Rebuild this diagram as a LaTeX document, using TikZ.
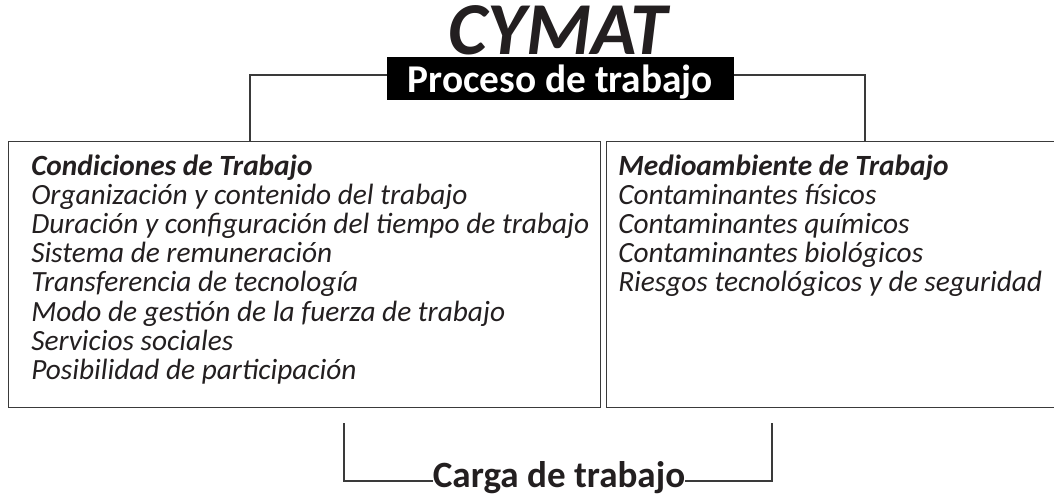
\documentclass[tikz,border=0pt]{standalone}
\usepackage{fontspec}
\setmainfont{Carlito}
\usetikzlibrary{
    calc,
    positioning
}
\definecolor{inkgray}{HTML}{231F20}
\definecolor{linegray}{HTML}{3A3A3A}

\begin{document}
\begin{tikzpicture}[x=0.75pt, y=-0.75pt,
    frame/.style={draw=linegray, line width=1pt},
    link/.style={draw=linegray, line width=1pt},
    item/.style={inner sep=0pt, text=inkgray, font=\fontsize{22}{26}\selectfont\itshape, anchor=base west},
    head/.style={item, font=\fontsize{22}{26}\selectfont\bfseries\itshape}
]
    \useasboundingbox (0, 0) rectangle (1054, 496);
    \clip (0, 0) rectangle (1054, 496);

    % title and black band
    \node[inner sep=0pt, text=inkgray, font=\fontsize{56}{60}\selectfont\bfseries\itshape, anchor=base] (cymat) at (558, 55) {CYMAT};
    \node[fill=black, text=white, inner sep=0pt, minimum width=260.25pt, minimum height=32.25pt,
          text height=20.25pt, text depth=0pt,
          font=\fontsize{29.5}{32}\selectfont\bfseries] (proceso) at (560.5, 78.5) {Proceso de trabajo};

    % the two boxes
    \node[frame, anchor=north west, minimum width=444pt, minimum height=199.5pt] (condbox) at (8, 141) {};
    \node[frame, anchor=north west, minimum width=339pt, minimum height=199.5pt] (medbox) at (606, 141) {};

    \node[head] (cond-head) at (31, 175) {Condiciones de Trabajo};
    \foreach \t [count=\i from 0] in {Organización y contenido del trabajo,
                                      Duración y configuración del tiempo de trabajo,
                                      Sistema de remuneración,
                                      Transferencia de tecnología,
                                      Modo de gestión de la fuerza de trabajo,
                                      Servicios sociales,
                                      Posibilidad de participación} {
        \node[item] (cond-\i) at (31, {204 + 29.3*\i}) {\t};
    }

    \node[head] (med-head) at (618, 175) {Medioambiente de Trabajo};
    \foreach \t [count=\i from 0] in {Contaminantes físicos,
                                      Contaminantes químicos,
                                      Contaminantes biológicos,
                                      Riesgos tecnológicos y de seguridad} {
        \node[item] (med-\i) at (618, {204 + 29.3*\i}) {\t};
    }

    % connectors at the top
    \coordinate (lt) at (250, 75);
    \coordinate (rt) at (865, 75);
    \draw[link] (proceso.west |- lt) -- (lt) -- (lt |- condbox.north);
    \draw[link] (proceso.east |- rt) -- (rt) -- (rt |- medbox.north);

    % bottom bracket
    \node[inner sep=0pt, text=inkgray, font=\fontsize{27.8}{30}\selectfont\bfseries, anchor=base] (carga) at (559, 487) {Carga de trabajo};
    \coordinate (bl) at (344, 423);
    \coordinate (br) at (772, 423);
    \coordinate (bm) at (559, 481);
    \draw[link] (bl) |- (carga.west |- bm);
    \draw[link] (br) |- (carga.east |- bm);
\end{tikzpicture}
\end{document}
